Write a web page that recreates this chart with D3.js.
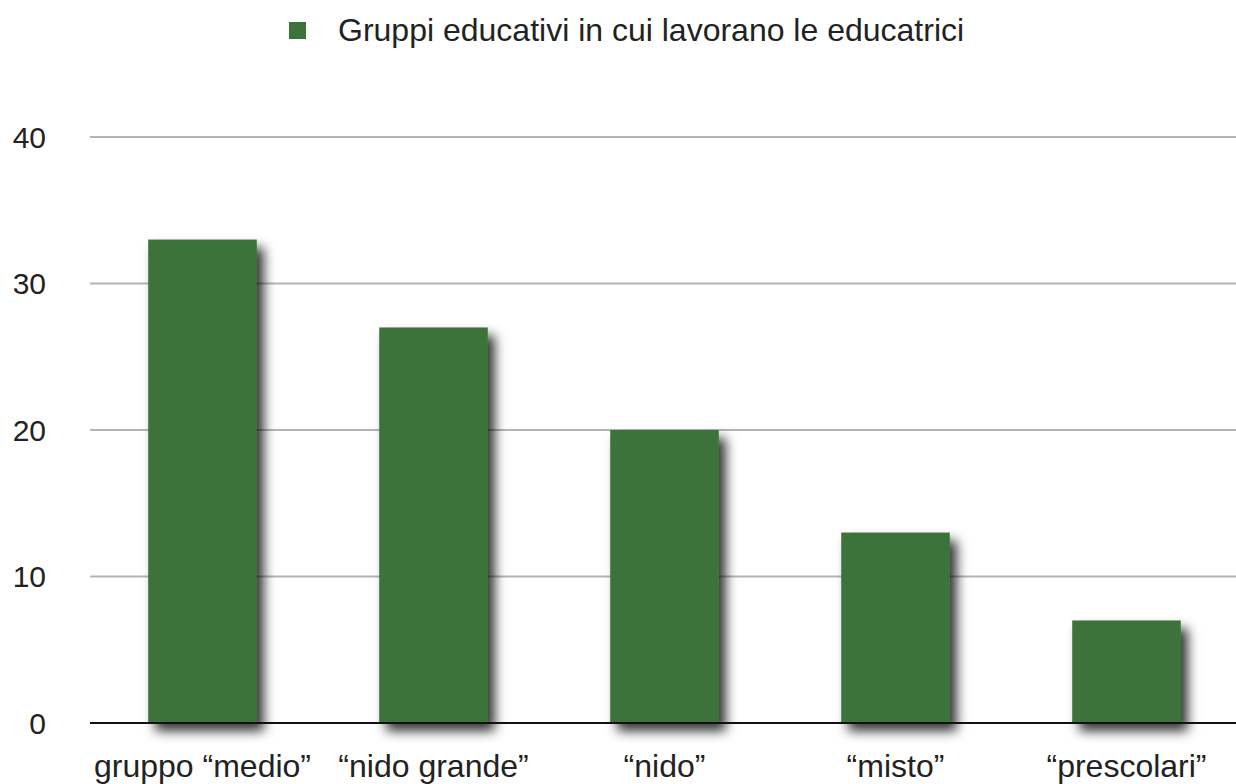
<!DOCTYPE html>
<html>
<head>
<meta charset="utf-8">
<script src="https://cdn.jsdelivr.net/npm/d3@7"></script>
<style>
  body { margin: 0; background: #fff; }
  text { font-family: "Liberation Sans", Arial, sans-serif; fill: #222; }
</style>
</head>
<body>
<div id="chart"></div>
<script>
const width = 1236,
    height = 784;

// dati
const categories = ["gruppo \u201cmedio\u201d", "\u201cnido grande\u201d", "\u201cnido\u201d", "\u201cmisto\u201d", "\u201cprescolari\u201d"];
const values = [33, 27, 20, 13, 7];
const yTicks = [0, 10, 20, 30, 40];
const seriesName = "Gruppi educativi in cui lavorano le educatrici";

const barColor = "#3e723b";

const svg = d3.select("#chart")
    .append("svg")
    .attr("width", width)
    .attr("height", height);

const defs = svg.append("defs");
const shadow = defs.append("filter")
    .attr("id", "shadow")
    .attr("x", "-30%").attr("y", "-30%")
    .attr("width", "170%").attr("height", "170%");
shadow.append("feDropShadow")
    .attr("dx", 7)
    .attr("dy", 8)
    .attr("stdDeviation", 6)
    .attr("flood-color", "#000")
    .attr("flood-opacity", 0.8);

const x = d3.scaleBand()
    .domain(categories)
    .range([87, 1242])
    .paddingInner(0.53)
    .paddingOuter(0.265);

const y = d3.scaleLinear()
    .domain([0, 40])
    .range([723, 137]);

// griglia
svg.append("g")
    .selectAll("line")
    .data(yTicks.filter(d => d > 0))
    .join("line")
    .attr("x1", 90)
    .attr("x2", width)
    .attr("y1", d => y(d))
    .attr("y2", d => y(d))
    .attr("stroke", "#b4b4b4")
    .attr("stroke-width", 2);

// etichette asse y
svg.append("g")
    .selectAll("text")
    .data(yTicks)
    .join("text")
    .attr("x", 46)
    .attr("y", d => y(d))
    .attr("dy", "0.36em")
    .attr("text-anchor", "end")
    .style("font-size", "30px")
    .text(d => d);

// barre
svg.append("g")
    .selectAll("rect")
    .data(values)
    .join("rect")
    .attr("x", (d, i) => x(categories[i]))
    .attr("y", d => y(d))
    .attr("width", x.bandwidth())
    .attr("height", d => y(0) - y(d))
    .attr("fill", barColor)
    .attr("filter", "url(#shadow)");

// asse x
svg.append("line")
    .attr("x1", 90)
    .attr("x2", width)
    .attr("y1", y(0))
    .attr("y2", y(0))
    .attr("stroke", "#111")
    .attr("stroke-width", 2);

svg.append("g")
    .selectAll("text")
    .data(categories)
    .join("text")
    .attr("x", d => x(d) + x.bandwidth() / 2)
    .attr("y", 777)
    .attr("text-anchor", "middle")
    .style("font-size", "32px")
    .text(d => d);

// legenda
const legend = svg.append("g");
legend.append("rect")
    .attr("x", 289)
    .attr("y", 22)
    .attr("width", 17)
    .attr("height", 17)
    .attr("fill", barColor);
legend.append("text")
    .attr("x", 338)
    .attr("y", 41)
    .style("font-size", "32px")
    .text(seriesName);
</script>
</body>
</html>
